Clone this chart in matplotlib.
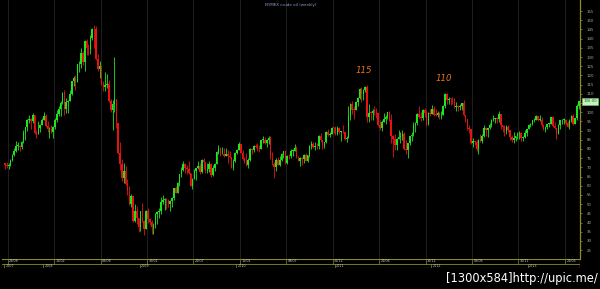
import numpy as np
import pandas as pd
import matplotlib
matplotlib.use("Agg")
import matplotlib.pyplot as plt

plt.rcParams["font.family"] = ["DejaVu Sans"]

# weekly NYMEX crude oil, one value per week starting 10 Aug 2007
first_open = 72.2
closes = [
    71.5, 71.0, 71.1, 74.0, 76.7, 79.1, 81.6, 81.7, 81.2, 83.7,
    88.6, 91.9, 95.9, 96.3, 95.1, 98.2, 88.7, 88.3, 91.3, 93.3,
    96.0, 97.9, 92.7, 90.6, 90.7, 89.0, 91.8, 95.5, 98.8, 101.8,
    105.2, 110.2, 101.8, 105.6, 106.2, 110.1, 116.7, 118.5, 116.3, 126.0,
    126.3, 132.2, 127.4, 138.5, 134.9, 134.6, 140.2, 145.3, 145.1, 128.9,
    123.3, 125.1, 115.2, 113.8, 114.6, 115.5, 106.2, 101.2, 104.6, 106.9,
    93.9, 77.7, 71.9, 64.2, 67.8, 61.0, 57.0, 49.9, 54.4, 40.8,
    46.3, 42.4, 37.7, 46.3, 40.8, 36.5, 46.5, 41.7, 40.2, 37.5,
    38.9, 44.8, 45.5, 46.3, 51.1, 52.4, 52.5, 52.2, 50.3, 51.6,
    53.2, 58.6, 56.3, 61.7, 66.3, 68.4, 72.0, 69.6, 69.2, 66.7,
    59.9, 63.6, 68.1, 69.5, 70.9, 67.5, 73.9, 72.7, 68.0, 69.3,
    72.0, 66.0, 69.9, 71.8, 78.5, 80.5, 77.0, 77.4, 76.4, 77.5,
    76.1, 75.5, 69.9, 73.4, 78.0, 79.4, 82.8, 78.0, 74.5, 72.9,
    71.2, 74.1, 79.8, 79.7, 81.5, 81.2, 80.7, 80.0, 84.9, 84.9,
    83.2, 85.1, 86.2, 75.1, 71.6, 70.0, 74.0, 71.5, 73.8, 77.2,
    78.9, 72.1, 76.1, 76.0, 79.0, 79.0, 80.7, 75.4, 73.5, 75.2,
    74.6, 76.5, 73.7, 76.5, 81.6, 82.7, 81.3, 81.7, 81.4, 86.9,
    84.9, 81.5, 83.8, 89.2, 87.8, 88.0, 91.5, 91.4, 88.0, 91.5,
    89.1, 89.3, 89.0, 85.6, 86.2, 97.9, 104.4, 101.2, 101.1, 105.4,
    107.9, 112.8, 109.7, 112.3, 113.9, 97.2, 99.7, 99.5, 100.6, 100.2,
    99.3, 93.0, 91.2, 94.9, 96.2, 97.2, 99.9, 95.7, 86.9, 85.4,
    82.3, 85.4, 86.5, 87.2, 88.0, 79.9, 79.2, 83.0, 86.8, 87.4,
    93.3, 94.3, 99.0, 97.4, 96.8, 101.0, 99.4, 93.5, 99.7, 98.8,
    101.6, 98.7, 98.5, 99.6, 97.8, 98.7, 103.2, 109.8, 106.7, 107.4,
    107.1, 106.9, 103.0, 103.3, 102.8, 103.1, 104.9, 98.5, 96.1, 91.5,
    90.9, 83.2, 84.1, 84.0, 79.8, 85.0, 84.5, 87.1, 91.4, 90.1,
    91.4, 92.9, 96.0, 96.2, 96.5, 96.4, 99.0, 92.9, 92.2, 89.9,
    91.9, 90.1, 86.3, 84.9, 86.1, 86.9, 88.3, 88.9, 85.9, 86.7,
    88.7, 90.8, 93.1, 93.6, 95.6, 95.9, 97.8, 95.7, 95.9, 93.1,
    90.7, 92.0, 93.5, 93.7, 97.2, 92.7, 91.3, 88.0, 93.0, 95.6,
    96.0, 96.0, 94.2, 92.0, 96.0, 97.9, 93.7, 96.6, 103.2, 106.0,
]
highs = [
    72.5, 73.0, 72.3, 74.5, 77.3, 80.4, 84.1, 83.9, 82.0, 84.1,
    90.1, 92.2, 96.2, 98.6, 96.7, 99.3, 98.4, 90.4, 95.0, 93.7,
    97.0, 100.1, 99.2, 95.0, 91.8, 93.0, 92.5, 96.7, 101.3, 103.1,
    106.0, 111.0, 111.8, 107.9, 106.6, 112.2, 117.0, 119.9, 120.0, 126.2,
    127.8, 135.1, 133.2, 139.1, 139.9, 137.0, 142.0, 145.9, 147.3, 146.7,
    131.5, 128.1, 125.0, 117.0, 122.0, 121.0, 117.6, 107.0, 106.6, 130.0,
    107.0, 94.0, 83.6, 74.6, 72.4, 71.0, 63.8, 59.9, 55.6, 54.0,
    50.0, 49.0, 42.3, 46.5, 50.5, 41.2, 46.9, 47.7, 42.7, 41.3,
    40.0, 45.0, 46.2, 48.0, 53.9, 54.7, 53.1, 53.6, 53.0, 52.0,
    53.9, 58.8, 60.1, 62.3, 66.4, 70.3, 73.2, 72.2, 71.5, 73.4,
    66.9, 64.0, 68.9, 69.9, 73.4, 72.3, 74.7, 75.0, 72.9, 72.4,
    73.3, 72.4, 71.1, 72.5, 78.9, 82.0, 81.2, 81.0, 80.5, 80.5,
    79.5, 79.0, 75.7, 74.5, 78.5, 80.0, 83.9, 82.7, 79.6, 75.6,
    77.6, 75.2, 80.5, 80.5, 82.0, 82.8, 83.2, 82.2, 85.0, 87.0,
    86.5, 85.3, 86.9, 87.2, 78.2, 72.9, 74.9, 75.6, 76.0, 78.0,
    79.0, 79.4, 76.5, 77.4, 79.9, 79.8, 82.9, 81.5, 76.3, 75.5,
    75.8, 77.0, 77.9, 76.8, 82.0, 84.4, 84.0, 83.7, 83.5, 87.4,
    88.6, 85.0, 84.0, 89.5, 90.8, 89.2, 91.9, 92.0, 92.6, 92.6,
    91.8, 90.0, 92.8, 88.2, 87.0, 103.4, 104.9, 106.0, 103.4, 105.9,
    108.0, 112.9, 113.5, 112.6, 114.0, 114.8, 104.6, 100.5, 101.5, 103.4,
    102.4, 99.8, 95.9, 96.0, 99.6, 98.3, 100.3, 100.6, 98.9, 87.4,
    88.2, 86.1, 90.5, 89.2, 90.5, 89.0, 84.9, 83.4, 87.0, 89.1,
    94.7, 94.6, 99.8, 103.4, 99.9, 101.5, 102.4, 101.0, 99.9, 101.8,
    103.7, 103.4, 101.8, 100.5, 100.3, 100.8, 103.7, 110.6, 110.5, 108.0,
    107.7, 108.2, 107.7, 105.5, 103.9, 104.4, 105.0, 106.4, 98.6, 95.5,
    93.0, 90.9, 85.8, 84.5, 85.0, 85.2, 88.0, 87.9, 92.9, 92.0,
    91.6, 94.0, 96.2, 98.3, 97.0, 97.4, 100.4, 99.0, 93.2, 93.0,
    93.0, 92.9, 90.5, 87.8, 89.0, 87.3, 89.1, 89.5, 89.2, 87.3,
    90.5, 91.0, 93.5, 94.3, 96.0, 96.7, 98.2, 97.9, 98.2, 97.5,
    93.5, 92.4, 93.8, 94.0, 97.3, 97.8, 94.5, 91.4, 93.6, 95.9,
    96.3, 96.7, 96.4, 95.0, 96.1, 98.3, 99.0, 97.1, 104.5, 106.2,
]
lows = [
    69.0, 69.5, 69.2, 71.0, 73.3, 76.0, 78.5, 79.4, 79.0, 79.9,
    83.3, 85.0, 89.5, 93.9, 90.6, 94.0, 88.2, 86.0, 87.9, 89.0,
    93.0, 95.7, 92.0, 89.2, 86.1, 88.5, 86.1, 91.0, 94.8, 98.0,
    98.0, 104.5, 98.7, 99.5, 99.6, 106.0, 109.5, 114.0, 111.8, 116.4,
    122.0, 124.0, 125.5, 122.2, 131.0, 130.9, 131.5, 139.0, 135.1, 128.2,
    122.5, 118.7, 114.6, 111.3, 111.5, 113.0, 105.5, 100.1, 90.5, 100.0,
    91.6, 77.0, 68.6, 62.7, 61.3, 60.5, 54.7, 49.3, 48.7, 40.5,
    40.3, 39.0, 35.1, 35.4, 40.5, 33.2, 36.3, 40.0, 38.6, 33.6,
    33.5, 37.1, 39.4, 42.6, 44.4, 50.3, 46.6, 47.4, 48.2, 46.0,
    48.2, 52.5, 55.8, 56.7, 59.6, 64.6, 68.1, 67.0, 66.5, 66.3,
    59.6, 58.3, 63.5, 63.0, 69.0, 66.3, 66.8, 69.0, 66.8, 67.0,
    67.7, 65.0, 65.1, 68.2, 71.8, 77.0, 76.0, 77.0, 75.7, 76.8,
    72.4, 74.9, 69.5, 68.6, 73.0, 77.3, 79.6, 77.8, 74.2, 72.4,
    71.0, 69.5, 73.5, 77.5, 78.5, 80.5, 79.0, 78.4, 79.8, 83.5,
    82.5, 81.0, 82.6, 74.8, 71.5, 64.2, 68.1, 71.3, 70.9, 73.5,
    75.0, 71.9, 71.7, 74.6, 75.2, 76.3, 78.7, 75.0, 73.2, 70.8,
    71.5, 72.6, 73.3, 72.7, 75.8, 80.0, 80.3, 79.2, 80.0, 80.1,
    84.0, 80.1, 80.5, 83.0, 87.2, 86.6, 87.9, 88.7, 87.6, 87.5,
    88.0, 84.6, 88.5, 85.1, 83.9, 86.1, 96.0, 99.0, 96.2, 101.1,
    103.2, 107.2, 105.5, 106.8, 110.8, 94.6, 94.6, 95.6, 95.8, 98.4,
    96.6, 92.5, 90.2, 89.6, 94.6, 93.8, 96.5, 95.4, 83.5, 75.7,
    79.3, 79.7, 85.3, 83.0, 85.0, 79.2, 77.1, 75.0, 82.3, 84.6,
    87.0, 89.2, 93.1, 96.7, 95.2, 96.0, 97.3, 92.5, 92.9, 98.1,
    99.4, 98.0, 97.8, 97.6, 96.2, 96.3, 98.2, 102.3, 104.6, 104.2,
    104.1, 104.7, 102.1, 100.7, 100.8, 101.2, 101.3, 98.0, 94.7, 90.4,
    88.9, 82.6, 81.2, 81.9, 78.8, 77.3, 83.8, 83.3, 86.3, 86.8,
    86.7, 90.6, 91.9, 95.0, 93.9, 94.3, 94.8, 90.9, 89.1, 87.0,
    88.1, 89.0, 85.1, 84.0, 83.0, 84.1, 85.2, 85.6, 84.1, 84.5,
    86.0, 87.0, 90.8, 91.9, 93.0, 94.5, 95.5, 95.2, 95.2, 92.0,
    90.3, 89.3, 90.8, 91.9, 93.5, 92.0, 91.0, 85.6, 88.1, 90.6,
    93.5, 93.4, 92.9, 91.8, 91.1, 94.6, 93.2, 93.4, 96.0, 101.9,
]
peak_labels = ["115", "110"]
peak_weeks = ["2011-04-29", "2012-02-24"]
price_ticks = list(range(25, 160, 5))
title = "NYMEX crude oil (weekly)"

closes = np.array(closes)
opens = np.concatenate(([first_open], closes[:-1]))
highs = np.maximum(np.array(highs), np.maximum(opens, closes))
lows = np.minimum(np.array(lows), np.minimum(opens, closes))
dates = pd.date_range("2007-08-10", periods=len(closes), freq="7D")
idx = np.arange(len(closes))

up = closes >= opens
green = "#1ee61e"
red = "#e81212"
yel = "#8c8c22"

fig = plt.figure(figsize=(6, 2.89), dpi=100, facecolor="black")
ax = fig.add_axes([0.0035, 0.104, 0.963, 0.896])
ax.set_facecolor("black")

# candles
cols = np.where(up, green, red)
ax.vlines(idx, lows, highs, colors=cols, linewidth=0.6, zorder=2)
body_lo = np.minimum(opens, closes)
body_h = np.maximum(np.abs(closes - opens), 0.4)
ax.bar(idx, body_h, bottom=body_lo, width=0.85, color=cols, linewidth=0, zorder=3)

ax.set_xlim(-1.5, len(closes) - 0.4)
ax.set_ylim(20.2, 161)

# half-year separators and the date rows underneath
half_idx = list(range(2, len(closes), 25))
for i in half_idx:
    ax.axvline(i - 0.5, color="#242424", linewidth=0.6, zorder=1)

# the last-price tag hides the tick label next to it
ax.yaxis.tick_right()
ax.set_yticks(price_ticks)
ax.set_yticklabels(["" if abs(t - closes[-1]) < 3 else str(t) for t in price_ticks])
ax.tick_params(axis="y", labelsize=2.8, colors="#aaaaaa", length=1.2, width=0.4, pad=3.5)
ax.tick_params(axis="x", bottom=False, labelbottom=False)
for s in ["top", "left", "bottom"]:
    ax.spines[s].set_visible(False)
ax.spines["right"].set_color(yel)
ax.spines["right"].set_linewidth(0.9)

# peak notes
for lab, wk in zip(peak_labels, peak_weeks):
    i = int(np.where(dates == pd.Timestamp(wk))[0][0])
    ax.annotate(lab, xy=(i, highs[i:i + 2].max()), xytext=(-1, 7), textcoords="offset points",
                ha="center", va="bottom", fontsize=6.2, style="italic", color="#e8701e")

# last price tag
ax.annotate(f"{closes[-1]:.2f}", xy=(1.0, closes[-1]), xycoords=("axes fraction", "data"),
            xytext=(2.5, 0), textcoords="offset points", ha="left", va="center",
            fontsize=2.8, color="#2a5a2a", annotation_clip=False,
            bbox=dict(boxstyle="square,pad=0.35", fc="#c6f2c0", ec="#6fd06f", lw=0.4))

ax.set_title(title, fontsize=2.9, color="#8f9fd0", y=0.975, pad=0)

# date strip
ax2 = fig.add_axes([0.0035, 0.071, 0.963, 0.033], sharex=ax)
ax2.set_facecolor("black")
ax2.set_ylim(0, 2)
ax2.axis("off")
ax2.axhline(2, color=yel, linewidth=0.8)
ax2.axhline(1, color=yel, linewidth=0.6)
ax2.axhline(0, color=yel, linewidth=0.8)
ax2.axvline(len(closes) - 0.4, color=yel, linewidth=0.9)
for i in half_idx:
    ax2.plot([i - 0.5, i - 0.5], [1, 2], color=yel, linewidth=0.5)
    ax2.text(i + 0.3, 1.5, dates[i].strftime("%d/%m"), fontsize=2.4, color="#c8c8c8", va="center")
year_idx = [0] + [i for i in range(1, len(dates)) if dates[i].year != dates[i - 1].year]
for i in year_idx:
    ax2.plot([i - 0.5, i - 0.5], [0, 1], color=yel, linewidth=0.5)
    ax2.text(i + 0.3, 0.5, str(dates[i].year), fontsize=2.4, color="#c8c8c8", va="center")

fig.text(0.996, 0.013, "[1300x584]http://upic.me/", ha="right", va="bottom",
         fontsize=9.2, color="white", family=["DejaVu Sans"], stretch="condensed")

fig.savefig("out.png", dpi=100, facecolor="black")
